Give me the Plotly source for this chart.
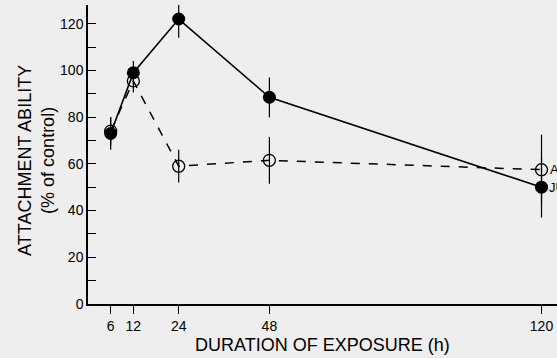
import plotly.graph_objects as go

hours = [6, 12, 24, 48, 120]
ju_values = [73, 99, 122, 88.5, 50]
ju_err = [7, 5, 8, 8.5, 13]
a_values = [74, 95.5, 59, 61.5, 57.5]
a_err = [6, 5, 7, 10, 15]
x_ticks = [6, 12, 24, 48, 120]
y_ticks = [0, 20, 40, 60, 80, 100, 120]

fig = go.Figure()
fig.add_trace(go.Scatter(
    x=hours, y=a_values, mode="lines+markers",
    line=dict(color="black", width=1.5, dash="dash"),
    marker=dict(symbol="circle-open", size=12, color="black", line=dict(width=1.3)),
    error_y=dict(type="data", array=a_err, width=0, thickness=1.2, color="black"),
    cliponaxis=False, showlegend=False))
fig.add_trace(go.Scatter(
    x=hours, y=ju_values, mode="lines+markers",
    line=dict(color="black", width=1.6),
    marker=dict(symbol="circle", size=13, color="black"),
    error_y=dict(type="data", array=ju_err, width=0, thickness=1.2, color="black"),
    cliponaxis=False, showlegend=False))

fig.add_annotation(x=120, y=a_values[-1], text="A", showarrow=False, xanchor="left",
                   xshift=6, font=dict(size=13, color="black"))
fig.add_annotation(x=120, y=ju_values[-1], text="JU", showarrow=False, xanchor="left",
                   xshift=5, font=dict(size=13, color="black"))

# axis titles as paper annotations
fig.add_annotation(xref="paper", yref="paper", x=-0.11, y=0.48,
                   text="ATTACHMENT ABILITY<br>(% of control)", textangle=-90,
                   showarrow=False, xanchor="center", yanchor="middle",
                   font=dict(size=18, color="black"))
fig.add_annotation(xref="paper", yref="paper", x=0.5, y=-0.137,
                   text="DURATION OF EXPOSURE (h)", showarrow=False,
                   xanchor="center", yanchor="middle", font=dict(size=18, color="black"))

fig.update_layout(
    width=557, height=358,
    margin=dict(l=88, r=0, t=5, b=54),
    paper_bgcolor="#eeeeee", plot_bgcolor="#eeeeee",
    font=dict(family="Liberation Sans, Arial", color="black"),
)
fig.update_xaxes(
    range=[0, 124.1], tickvals=x_ticks, ticktext=[str(t) for t in x_ticks],
    ticks="outside", ticklen=8, tickwidth=1.2, tickcolor="black",
    showline=True, linecolor="black", linewidth=1.5, showgrid=False, zeroline=False,
    tickfont=dict(size=14), automargin=False,
)
fig.update_yaxes(
    range=[0, 128], tickvals=y_ticks,
    ticks="inside", ticklen=8, tickwidth=1.2, tickcolor="black",
    minor=dict(dtick=10, ticks="inside", ticklen=8, tickwidth=1.2, tickcolor="black", showgrid=False),
    showline=True, linecolor="black", linewidth=1.5, showgrid=False, zeroline=False,
    tickfont=dict(size=14), automargin=False,
)
fig.write_html("out.html", config={"displayModeBar": False},
               post_script="document.body.style.margin='0';document.body.style.background='#eeeeee';")
